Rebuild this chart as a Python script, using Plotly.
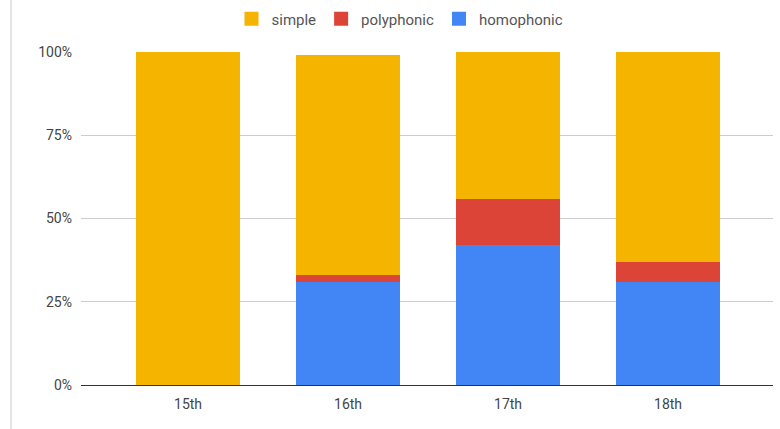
import plotly.graph_objects as go

# Share of settings by century
centuries = ["15th", "16th", "17th", "18th"]
homophonic = [0, 31, 42, 31]
polyphonic = [0, 2, 14, 6]
simple = [100, 66, 44, 63]

y_ticks = [0, 25, 50, 75, 100]
y_tick_labels = [f"{v}%" for v in y_ticks]

series = [
    ("homophonic", homophonic, "#4285F4"),
    ("polyphonic", polyphonic, "#DB4437"),
    ("simple", simple, "#F4B400"),
]

fig = go.Figure()
for name, vals, color in series:
    fig.add_trace(go.Bar(
        x=centuries, y=vals, name=name, showlegend=False,
        marker=dict(color=color, line=dict(width=0)),
        hovertemplate="%{x}: %{y}%<extra>" + name + "</extra>",
    ))

# legend entries with larger square swatches
for name, vals, color in reversed(series):
    fig.add_trace(go.Scatter(
        x=[None], y=[None], mode="markers", name=name,
        marker=dict(symbol="square", size=14, color=color),
    ))

W, H = 780, 429
L, R, T, B = 81, 7, 52, 44
pw = W - L - R

fig.update_layout(
    width=W, height=H,
    margin=dict(l=L, r=R, t=T, b=B, autoexpand=False),
    barmode="stack",
    bargap=0.353,
    plot_bgcolor="white",
    paper_bgcolor="white",
    font=dict(family="Roboto, Arial, sans-serif", size=14, color="#444444"),
    legend=dict(
        orientation="h", traceorder="normal",
        x=(400 - L) / pw, xanchor="center",
        y=1 + (T - 19) / (H - T - B), yanchor="middle",
        font=dict(size=15, color="#555555"),
        itemclick=False, itemwidth=30,
    ),
    xaxis=dict(
        range=[-0.669, 3.656],
        showline=True, linecolor="#333333", linewidth=1,
        showgrid=False, ticks="", ticklabelstandoff=6,
        tickfont=dict(size=14, color="#444444"),
        fixedrange=True,
    ),
    yaxis=dict(
        range=[0, 100],
        tickmode="array", tickvals=y_ticks, ticktext=y_tick_labels,
        showgrid=True, gridcolor="#cccccc", gridwidth=1,
        zeroline=False, ticks="", ticklabelstandoff=8,
        tickfont=dict(size=14, color="#444444"),
        fixedrange=True,
    ),
    shapes=[dict(
        type="line", xref="paper", yref="paper",
        x0=(11 - L) / pw, x1=(11 - L) / pw,
        y0=-B / (H - T - B), y1=1 + T / (H - T - B),
        line=dict(color="#c8c8c8", width=1),
    )],
)

fig.write_html("out.html")
